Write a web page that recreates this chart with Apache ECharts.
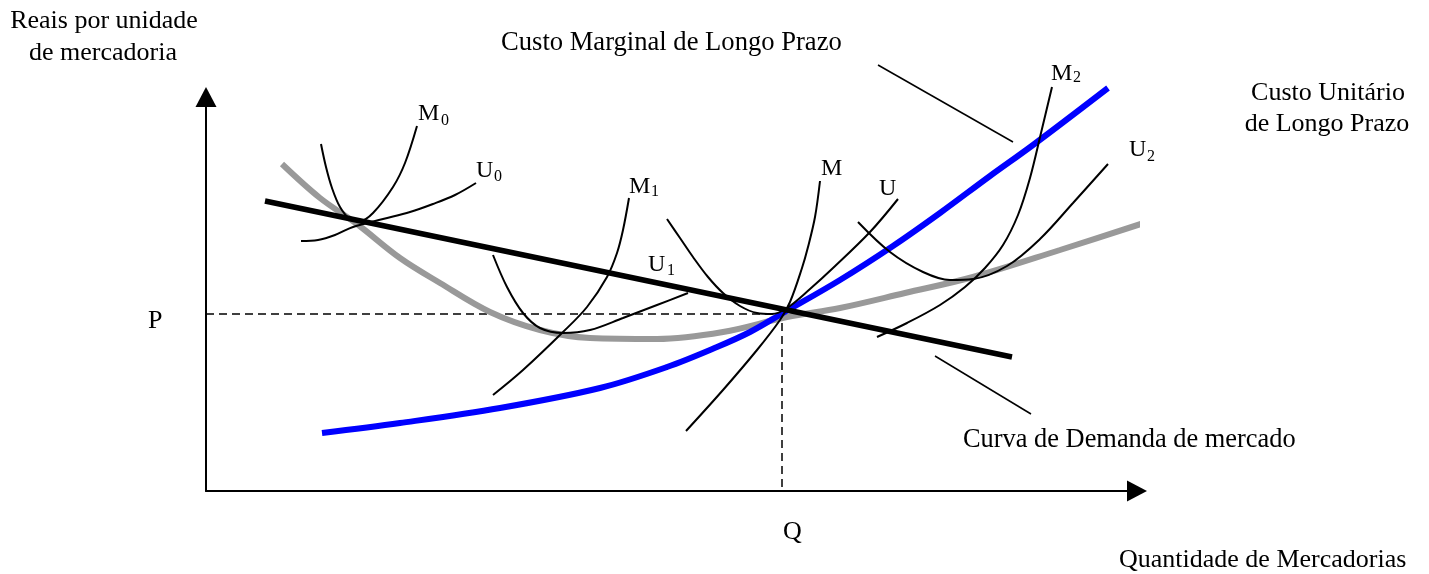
<!DOCTYPE html>
<html><head><meta charset="utf-8">
<script src="https://cdn.jsdelivr.net/npm/echarts@6/dist/echarts.min.js"></script>
<style>html,body{margin:0;padding:0;background:#fff}#c{width:1429px;height:574px}</style>
</head><body><div id="c"></div>
<script>
// Values in axis units: [quantity, price]
const demandCurve = [[59,290],[806,134]];
const longRunUnitCost = [[76,327],[114,293],[151,267],[194,233],[234,208],[284,179],[334,161],[384,153],[451,152],[517,159],[581,174],[634,183],[699,198],[767,214],[854,241],[941,269]];
const longRunMarginalCost = [[116,58],[194,68],[294,83],[394,103],[461,124],[511,144],[544,159],[577,178],[634,211],[687,245],[734,278],[784,315],[827,346],[902,403]];
const m0Curve = [[115,347],[120,324],[126,303],[134,284],[144,272],[154,270],[167,278],[187,304],[199,328],[211,365]];
const u0Curve = [[95,250],[112,251],[129,256],[147,264],[177,272],[204,279],[227,287],[249,296],[270,308]];
const m1Curve = [[287,96],[317,121],[357,159],[381,184],[401,214],[411,238],[417,261],[423,293]];
const u1Curve = [[287,236],[301,204],[317,178],[334,163],[357,158],[384,161],[417,173],[451,186],[482,198]];
const mCurve = [[480,60],[517,101],[551,141],[574,171],[584,189],[596,223],[602,244],[609,274],[614,310]];
const uCurve = [[461,272],[474,253],[487,234],[502,214],[517,198],[534,185],[551,178],[566,177],[581,183],[604,202],[627,223],[664,259],[692,292]];
const m2Curve = [[671,154],[701,168],[734,186],[759,204],[779,223],[797,246],[812,276],[824,313],[835,358],[846,404]];
const u2Curve = [[652,269],[684,239],[717,219],[744,211],[767,212],[801,225],[834,252],[867,288],[902,327]];
const equilibriumQ = 576, equilibriumP = 177;
const leaderMarginal = [[672,426],[807,349]];
const leaderUnit = [[1018,365],[941,289]];
const leaderDemand = [[729,135],[825,77]];

const axisTexts = ['Reais por unidade','de mercadoria','Quantidade de Mercadorias','P','Q'];
const curveTexts = ['Custo Marginal de Longo Prazo','Custo Unitário','de Longo Prazo','Curva de Demanda de mercado'];

const chart = echarts.init(document.getElementById('c'), null, {renderer:'canvas'});
const FONT = '"Liberation Serif","Times New Roman",serif';

function line(data, color, width, extra) {
  return Object.assign({
    type:'line', data:data, symbol:'none', silent:true, clip:false,
    smooth:0.35,
    lineStyle:{color:color, width:width}
  }, extra||{});
}
function txt(t, x, y, fs, align) {
  return {type:'text', x:x, y:y, silent:true,
    style:{text:t, fill:'#000', font: fs+'px '+FONT, align:align||'left', verticalAlign:'middle'}};
}

const graphics = [
  txt(axisTexts[0], 104, 21, 26, 'center'),
  txt(axisTexts[1], 103, 53, 26, 'center'),
  txt(axisTexts[2], 1119, 560, 26),
  txt(axisTexts[3], 148, 321, 26),
  txt(axisTexts[4], 783, 532, 26),
  txt(curveTexts[0], 501, 43, 26.6),
  txt(curveTexts[1], 1328, 93, 26, 'center'),
  txt(curveTexts[2], 1327, 124, 26, 'center'),
  txt(curveTexts[3], 963, 440, 26.4),
  // curve labels with subscripts
  txt('M', 418, 114, 24), txt('0', 441, 120.5, 16),
  txt('U', 476, 171, 24), txt('0', 494, 177, 16),
  txt('M', 629, 187, 24), txt('1', 651, 191.5, 16),
  txt('U', 648, 265, 24), txt('1', 667, 270.5, 16),
  txt('M', 821, 169, 24),
  txt('U', 879, 189, 24),
  txt('M', 1051, 74, 24), txt('2', 1073, 77.5, 16),
  txt('U', 1129, 150, 24), txt('2', 1147, 156.5, 16)
];

const axisCommon = {
  type:'value', min:0,
  axisLine:{show:true, lineStyle:{color:'#000', width:2}, symbol:['none','triangle'], symbolSize:[21,20]},
  axisTick:{show:false}, axisLabel:{show:false}, splitLine:{show:false}
};

chart.setOption({
  animation:false,
  backgroundColor:'#fff',
  grid:{left:206, bottom:83, width:931, height:394, containLabel:false},
  xAxis:Object.assign({}, axisCommon, {max:931}),
  yAxis:Object.assign({}, axisCommon, {max:394}),
  series:[
    line([[0,equilibriumP],[equilibriumQ,equilibriumP],[equilibriumQ,0]], '#000', 1.5, {smooth:false, lineStyle:{color:'#000', width:1.5, type:[8,5]}}),
    line(leaderMarginal, '#000', 1.5, {smooth:false}),
    line(leaderUnit, '#000', 1.5, {smooth:false}),
    line(leaderDemand, '#000', 1.5, {smooth:false}),
    line(longRunUnitCost, '#999999', 6),
    line(longRunMarginalCost, '#0000ff', 6),
    line(m0Curve, '#000', 2),
    line(u0Curve, '#000', 2),
    line(m1Curve, '#000', 2),
    line(u1Curve, '#000', 2),
    line(mCurve, '#000', 2),
    line(uCurve, '#000', 2),
    line(m2Curve, '#000', 2),
    line(u2Curve, '#000', 2),
    line(demandCurve, '#000', 5.5, {smooth:false})
  ],
  graphic:graphics
});
</script></body></html>
